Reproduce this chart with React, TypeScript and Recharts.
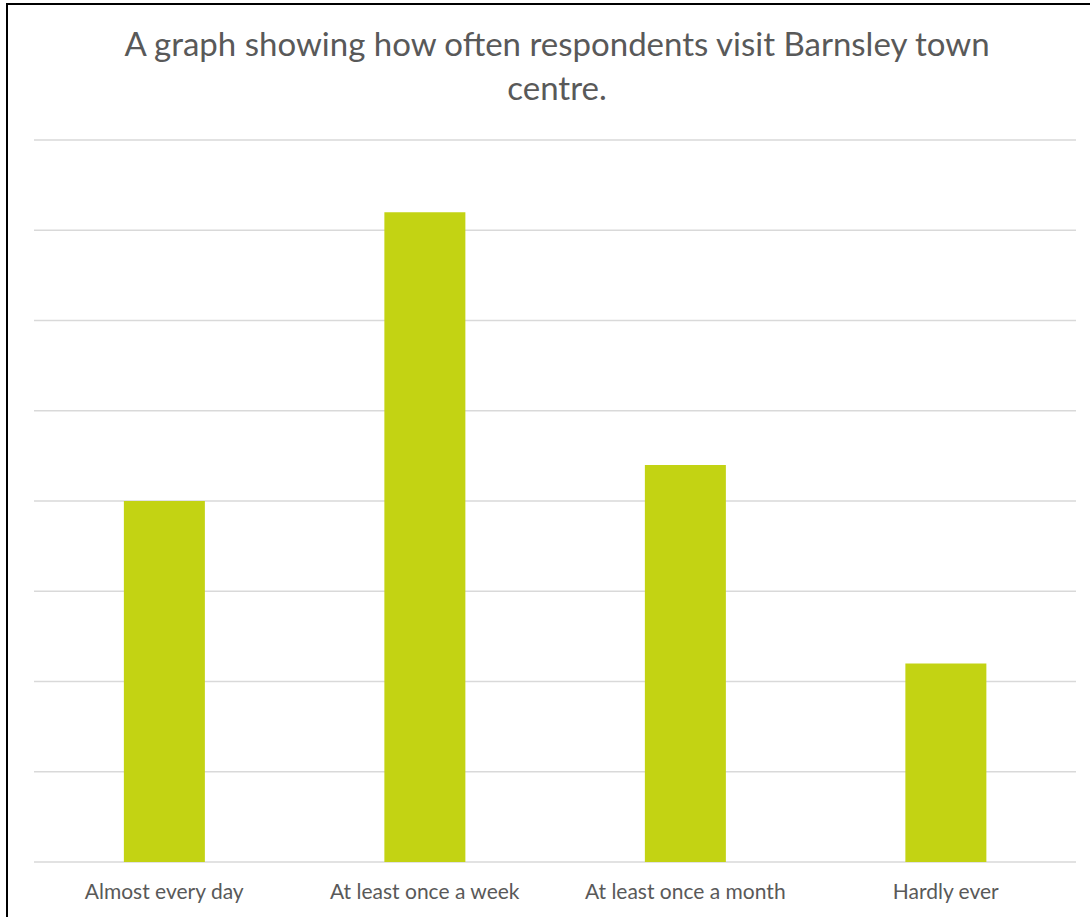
import { BarChart, Bar, XAxis, YAxis, CartesianGrid } from 'recharts'

const categories = ['Almost every day', 'At least once a week', 'At least once a month', 'Hardly ever']
const respondents = [20, 36, 22, 11]
const yTicks = [0, 5, 10, 15, 20, 25, 30, 35, 40]
const titleLines = ['A graph showing how often respondents visit Barnsley town', 'centre.']

const data = categories.map((name, i) => ({ name, value: respondents[i] }))

const FONT = 'Lato, "Open Sans", sans-serif'

export default function App() {
  return (
    <div style={{ position: 'fixed', left: 0, top: 0, width: 1090, height: 917, overflow: 'hidden', background: '#fff' }}>
      <div
        style={{
          position: 'absolute',
          left: 6,
          top: 3,
          width: 1100,
          height: 940,
          border: '2px solid #000',
          background: '#fff',
        }}
      >
        <div
          style={{
            position: 'absolute',
            left: 0,
            top: 16,
            width: 1098,
            textAlign: 'center',
            fontFamily: FONT,
            fontSize: 33,
            lineHeight: '44px',
            color: '#595959',
          }}
        >
          {titleLines.map((t) => (
            <div key={t}>{t}</div>
          ))}
        </div>
        <BarChart
          width={1090}
          height={912}
          data={data}
          margin={{ top: 135, right: 22, left: 26, bottom: 0 }}
          barCategoryGap="34.5%"
        >
          <CartesianGrid vertical={false} stroke="#d9d9d9" strokeWidth={1.5} />
          <XAxis
            dataKey="name"
            height={55}
            axisLine={false}
            tickLine={false}
            tickSize={0}
            tickMargin={22}
            interval={0}
            tick={{ fontSize: 21, fill: '#595959', fontFamily: FONT }}
          />
          <YAxis hide domain={[0, 40]} ticks={yTicks} />
          <Bar dataKey="value" fill="#c3d313" isAnimationActive={false} />
        </BarChart>
      </div>
    </div>
  )
}
